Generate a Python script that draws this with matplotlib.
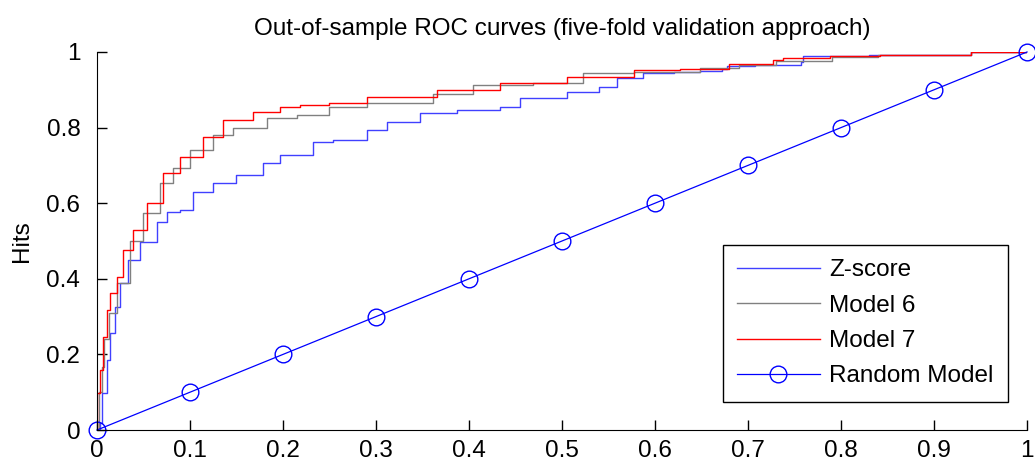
import matplotlib
matplotlib.use('Agg')
import matplotlib.pyplot as plt

plt.rcParams['font.family'] = ['Liberation Sans', 'DejaVu Sans']

# Z-score curve (false alarm rate, hit rate)
zscore_fpr = [0, 0.003, 0.005, 0.011, 0.014, 0.019, 0.025, 0.033, 0.046, 0.064,
              0.075, 0.089, 0.103, 0.125, 0.15, 0.179, 0.197, 0.232, 0.254, 0.29,
              0.312, 0.347, 0.387, 0.433, 0.455, 0.505, 0.54, 0.559, 0.587, 0.62,
              0.648, 0.672, 0.677, 0.707, 0.757, 0.759, 0.83, 0.94, 1.0]
zscore_tpr = [0, 0.018, 0.098, 0.185, 0.256, 0.325, 0.388, 0.45, 0.498, 0.55,
              0.577, 0.582, 0.63, 0.653, 0.675, 0.706, 0.727, 0.762, 0.767, 0.794,
              0.815, 0.838, 0.847, 0.855, 0.878, 0.894, 0.908, 0.93, 0.944, 0.948,
              0.95, 0.954, 0.963, 0.966, 0.974, 0.989, 0.992, 1.0, 1.0]

# Model 6
m6_fpr = [0, 0.002, 0.005, 0.008, 0.013, 0.0215, 0.035, 0.05, 0.068, 0.082,
          0.1, 0.125, 0.146, 0.183, 0.215, 0.25, 0.29, 0.361, 0.404, 0.469,
          0.523, 0.577, 0.648, 0.69, 0.73, 0.79, 0.84, 0.94, 1.0]
m6_tpr = [0, 0.10, 0.167, 0.24, 0.31, 0.39, 0.50, 0.574, 0.653, 0.693,
          0.74, 0.78, 0.80, 0.825, 0.833, 0.855, 0.865, 0.89, 0.912, 0.918,
          0.944, 0.947, 0.957, 0.965, 0.975, 0.988, 0.992, 1.0, 1.0]

# Model 7
m7_fpr = [0, 0, 0.003, 0.0065, 0.011, 0.014, 0.0215, 0.028, 0.039, 0.054,
          0.071, 0.089, 0.114, 0.135, 0.168, 0.197, 0.218, 0.25, 0.29, 0.366,
          0.433, 0.505, 0.577, 0.627, 0.68, 0.727, 0.738, 0.788, 0.842, 0.94, 1.0]
m7_tpr = [0, 0.098, 0.159, 0.246, 0.317, 0.362, 0.405, 0.476, 0.53, 0.60,
          0.68, 0.722, 0.775, 0.82, 0.841, 0.855, 0.86, 0.865, 0.881, 0.899,
          0.918, 0.934, 0.952, 0.954, 0.968, 0.979, 0.985, 0.99, 0.992, 1.0, 1.0]

# random model diagonal
rand_x = [0, 0.1, 0.2, 0.3, 0.4, 0.5, 0.6, 0.7, 0.8, 0.9, 1]
rand_y = [0, 0.1, 0.2, 0.3, 0.4, 0.5, 0.6, 0.7, 0.8, 0.9, 1]

xticks = [0, 0.1, 0.2, 0.3, 0.4, 0.5, 0.6, 0.7, 0.8, 0.9, 1]
xticklabels = ['0', '0.1', '0.2', '0.3', '0.4', '0.5', '0.6', '0.7', '0.8', '0.9', '1']
yticks = [0, 0.2, 0.4, 0.6, 0.8, 1]
yticklabels = ['0', '0.2', '0.4', '0.6', '0.8', '1']

fig = plt.figure(figsize=(10.35, 4.67), dpi=100)
ax = fig.add_axes([0.0937, 0.0792, 0.8986, 0.8095])

ax.plot(zscore_fpr, zscore_tpr, color='#4040ff', lw=1, drawstyle='steps-post', label='Z-score')
ax.plot(m6_fpr, m6_tpr, color='gray', lw=1, drawstyle='steps-post', label='Model 6')
ax.plot(m7_fpr, m7_tpr, color='red', lw=1, drawstyle='steps-post', label='Model 7')
ax.plot(rand_x, rand_y, color='blue', lw=0.9, marker='o', markersize=12,
        markerfacecolor='none', markeredgecolor='blue', markeredgewidth=1,
        label='Random Model', clip_on=False)

ax.set_xlim(0, 1)
ax.set_ylim(0, 1)
ax.set_xticks(xticks)
ax.set_xticklabels(xticklabels)
ax.set_yticks(yticks)
ax.set_yticklabels(yticklabels)
ax.tick_params(direction='in', length=7, width=1, labelsize=17.5)
ax.tick_params(axis='y', pad=12)
ax.tick_params(axis='x', pad=7)
ax.spines['top'].set_visible(False)
ax.spines['right'].set_visible(False)

ax.set_title('Out-of-sample ROC curves (five-fold validation approach)', fontsize=17.5, pad=12)
ax.set_ylabel('Hits', fontsize=17.5, labelpad=10)

leg = ax.legend(loc='lower right', bbox_to_anchor=(0.98, 0.074), borderaxespad=0,
                fontsize=17.5, fancybox=False, framealpha=1, edgecolor='black',
                handlelength=3.4, handletextpad=0.4, borderpad=0.6, labelspacing=0.55)
leg.get_frame().set_linewidth(1)

fig.savefig('out.png', dpi=100)
